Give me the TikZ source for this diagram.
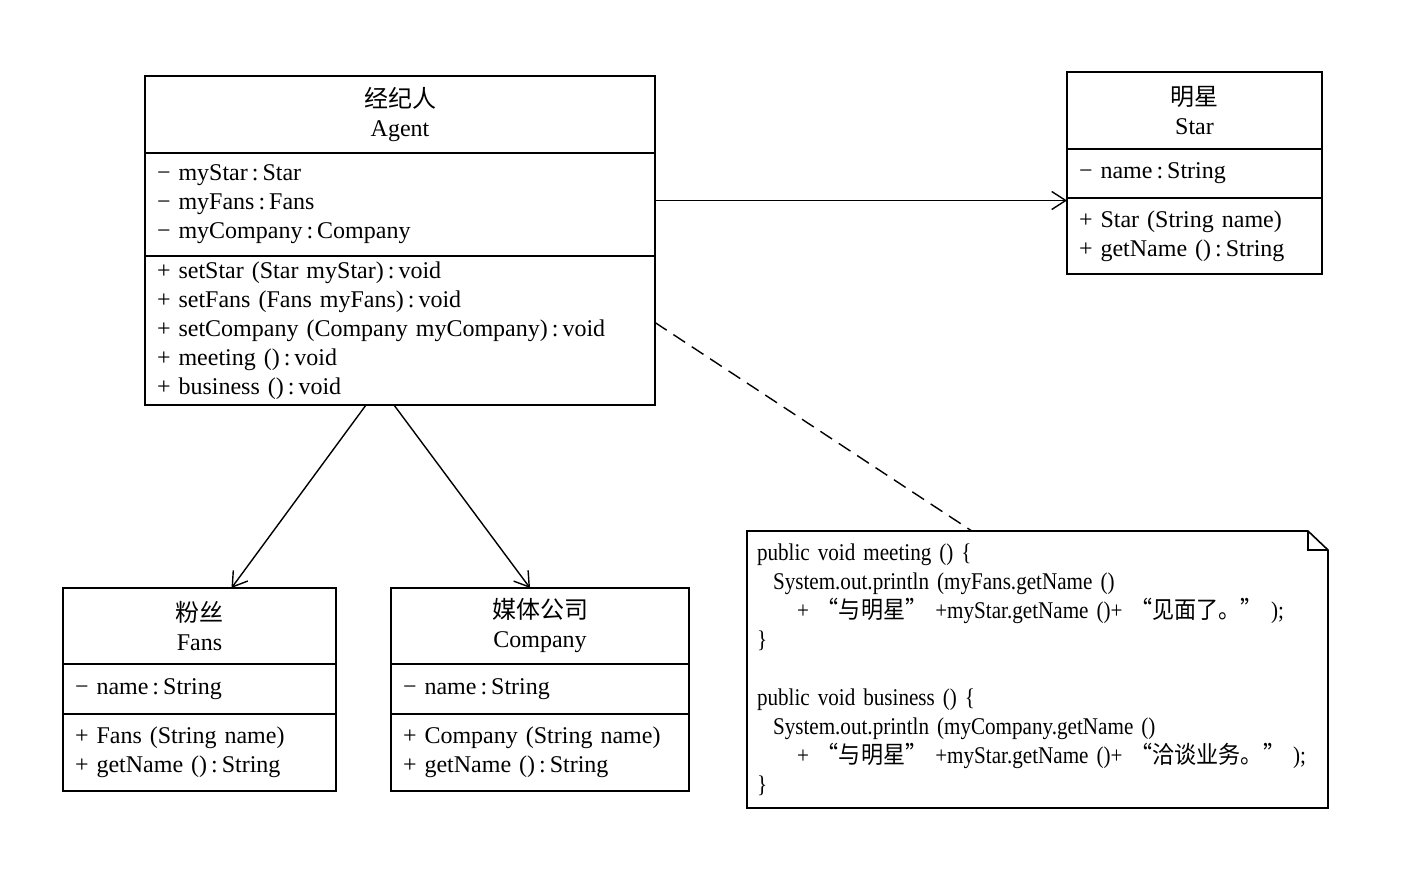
\documentclass[tikz,border=0pt]{standalone}
\usepackage{fontspec}
\setmainfont{Liberation Serif}
\newfontfamily\cjk{Noto Sans CJK SC}
\newfontfamily\codefont[FakeStretch=0.88]{Liberation Serif}
\newfontfamily\codecjk[FakeStretch=0.92]{Noto Sans CJK SC}
\usetikzlibrary{calc,positioning,arrows.meta}

\tikzset{
  box/.style={draw, line width=0.8pt, outer sep=0pt, inner xsep=6pt, inner ysep=0pt,
    align=left, font=\fontsize{12}{14.5}\selectfont},
  head/.style={box, align=center},
  assoc/.style={-{Straight Barb[length=7pt,width=9pt]}, line width=0.7pt},
}

\begin{document}
\begin{tikzpicture}[x=0.5pt,y=-0.5pt]
        \useasboundingbox (0,0) rectangle (1414,894);
        \node[head, text width=243pt, minimum height=38.5pt, anchor=north west] (agent) at (145,76) {{\cjk 经纪人}\\Agent};
        \node[box, text width=243pt, minimum height=51.5pt, below=0pt of agent] (agentattr)
          {− myStar\,:\,Star\\− myFans\,:\,Fans\\− myCompany\,:\,Company};
        \node[box, text width=243pt, minimum height=74.5pt, below=0pt of agentattr] (agentops)
          {+ setStar (Star myStar)\,:\,void\\+ setFans (Fans myFans)\,:\,void\\+ setCompany (Company myCompany)\,:\,void\\+ meeting ()\,:\,void\\+ business ()\,:\,void};

        \node[head, text width=115.5pt, minimum height=38.5pt, anchor=north west] (star) at (1067,72) {{\cjk 明星}\\Star};
        \node[box, text width=115.5pt, minimum height=24.5pt, below=0pt of star] (starattr) {− name\,:\,String};
        \node[box, text width=115.5pt, minimum height=38pt, below=0pt of starattr] (starops)
          {+ Star (String name)\\+ getName ()\,:\,String};

        \node[head, text width=124.5pt, minimum height=38pt, anchor=north west] (fans) at (63,588) {{\cjk 粉丝}\\Fans};
        \node[box, text width=124.5pt, minimum height=25pt, below=0pt of fans] (fansattr) {− name\,:\,String};
        \node[box, text width=124.5pt, minimum height=38.5pt, below=0pt of fansattr] (fansops)
          {+ Fans (String name)\\+ getName ()\,:\,String};

        \node[head, text width=137pt, minimum height=38pt, anchor=north west] (company) at (391,588) {{\cjk 媒体公司}\\Company};
        \node[box, text width=137pt, minimum height=25pt, below=0pt of company] (companyattr) {− name\,:\,String};
        \node[box, text width=137pt, minimum height=38.5pt, below=0pt of companyattr] (companyops)
          {+ Company (String name)\\+ getName ()\,:\,String};

        \node[box, draw=none, inner xsep=5pt, text width=280.5pt, minimum height=138.5pt, anchor=north west,
          font=\fontsize{12}{14.5}\codefont] (note) at (747,531)
          {public void meeting () \{\\
           \hspace*{8pt}System.out.println (myFans.getName ()\\
           \hspace*{20pt}+ {\codecjk “与明星”} +myStar.getName ()+ {\codecjk “见面了。”} );\\
           \}\\[14.5pt]
           public void business () \{\\
           \hspace*{8pt}System.out.println (myCompany.getName ()\\
           \hspace*{20pt}+ {\codecjk “与明星”} +myStar.getName ()+ {\codecjk “洽谈业务。”} );\\
           \}};
        \draw[line width=0.8pt] (note.north west) -- ($(note.north east)+(-20,0)$) -- ($(note.north east)+(0,19)$)
          -- (note.south east) -- (note.south west) -- cycle;
        \draw[line width=0.8pt] ($(note.north east)+(-20,0)$) -- ($(note.north east)+(-20,19)$) -- ($(note.north east)+(0,19)$);

        \path[assoc] ($(agentattr.east)+(0,-4)$) edge ($(agentattr.east -| starops.west)+(0,-4)$);
        \path[assoc] ($(agentops.south)+(-34,0)$) edge ($(fans.north)+(32,0)$)
          ($(agentops.south)+(-6,0)$) edge ($(company.north)+(-10,0)$);
        \draw[dashed, dash pattern=on 7pt off 4pt, line width=0.7pt] ($(agentops.east)+(0,-8)$) -- ($(note.north west)!0.387!(note.north east)$);
      \end{tikzpicture}
\end{document}
